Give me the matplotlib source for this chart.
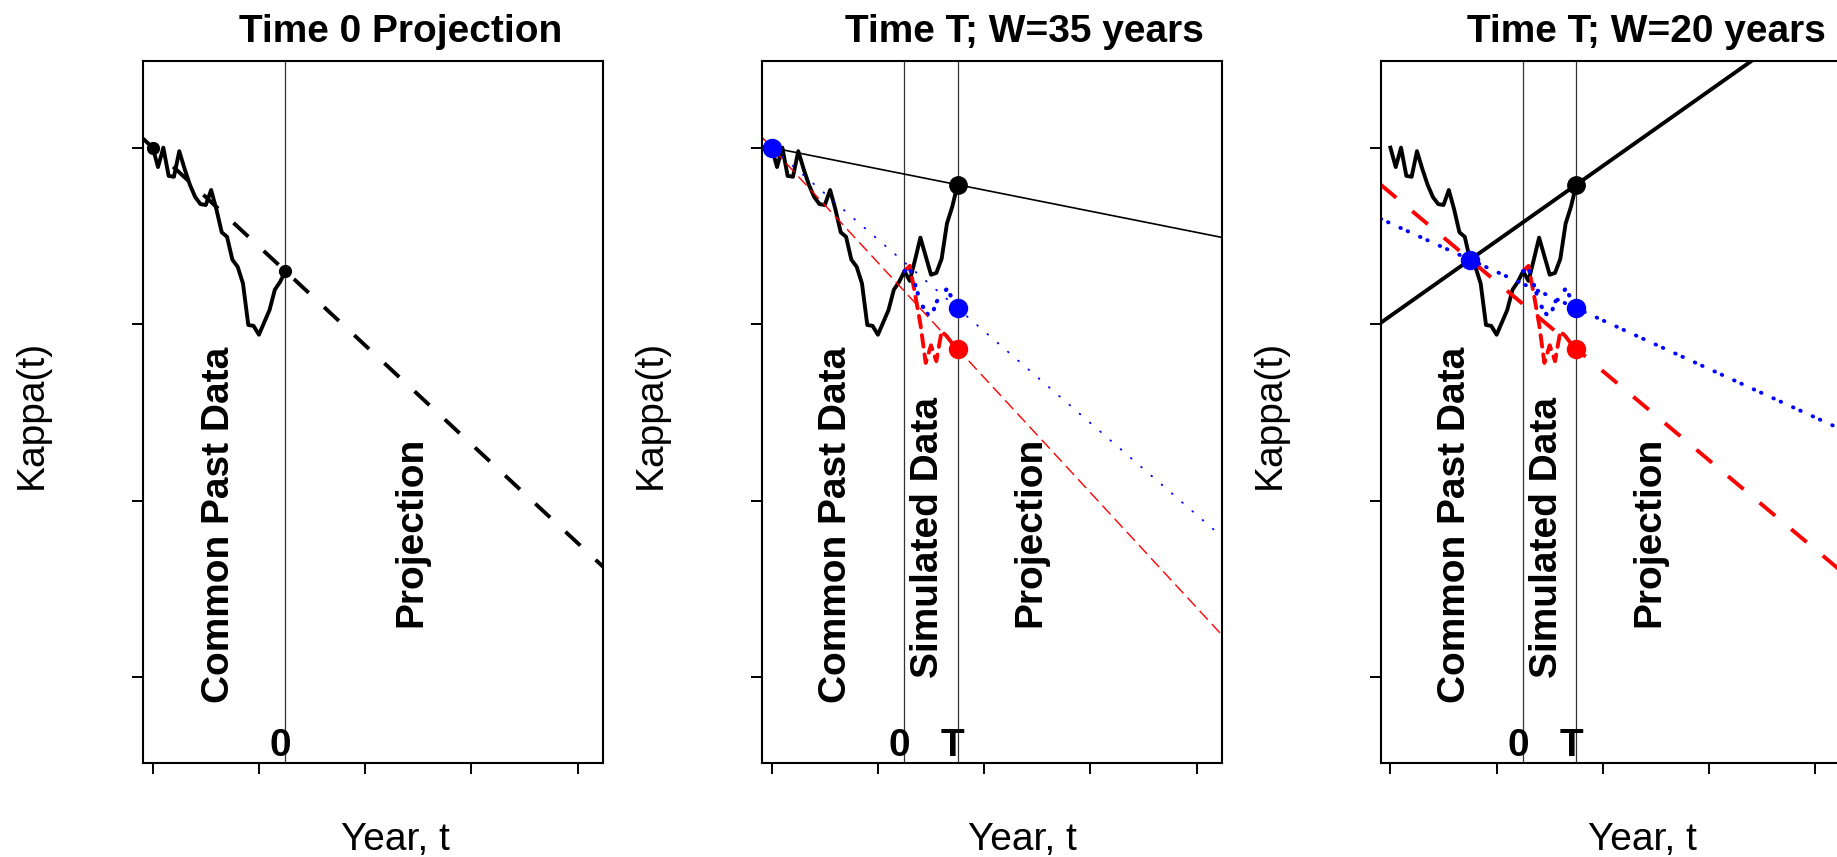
import numpy as np
import matplotlib.pyplot as plt

plt.rcParams['font.family'] = ['Liberation Sans', 'DejaVu Sans']

# common past data (kappa), shared by all three panels
years_past = np.arange(1960, 1986)
kappa_past = [0.0, -1.1, 0.0, -1.6, -1.65, -0.2, -1.2, -2.1, -2.8, -3.2,
              -3.25, -2.4, -3.5, -4.8, -5.05, -6.35, -6.75, -7.7, -10.05, -10.1,
              -10.6, -9.9, -9.2, -8.05, -7.6, -7.0]

# simulated data between time 0 and time T, three scenarios
years_sim = np.arange(1985, 1996)
kappa_black = [-7.0, -7.55, -6.35, -5.1, -6.15, -7.2, -7.1, -6.3, -4.3, -3.35, -2.1]
kappa_blue = [-7.0, -6.85, -7.75, -8.75, -9.3, -9.65, -8.75, -8.35, -8.0, -8.55, -9.1]
kappa_red = [-7.0, -6.7, -8.3, -10.0, -12.2, -11.2, -12.1, -10.4, -10.7, -11.1, -11.4]

t0 = 1985
T = 1995
windows = [35, 20]
xticks = [1960, 1980, 2000, 2020, 2040]
yticks = [0, -10, -20, -30]
titles = ['Time 0 Projection', 'Time T; W=35 years', 'Time T; W=20 years']

W, H = 1837, 857
xlim = (1958.17, 2044.8)
ylim = (-34.87, 4.91)
FS = 28

fig = plt.figure(figsize=(W / 100, H / 100), dpi=100)

panel_left = [143, 762, 1380.7]
title_x = [401, 1024, 1646]
xlab_x = [395, 1022, 1642]

thick_dash = (0, (5.2, 5.4))
path_dash = (0, (3.0, 2.0))
thin_dash = (0, (8.6, 4.3))
thin_dot = (0, (0.5, 7))
thick_dot = (0, (0.15, 1.9, 0.15, 3.35))


def proj_line(ax, x0, y0, x1, y1, **kw):
    xs = np.array(xlim)
    ys = y0 + (y1 - y0) / (x1 - x0) * (xs - x0)
    ax.plot(xs, ys, **kw)


def setup(i):
    ax = fig.add_axes([panel_left[i] / W, 1 - 763 / H, 460 / W, (763 - 61) / H])
    ax.set_xlim(xlim)
    ax.set_ylim(ylim)
    ax.set_xticks(xticks)
    ax.set_yticks(yticks)
    ax.set_xticklabels([])
    ax.set_yticklabels([])
    ax.tick_params(direction='out', length=7.7, width=1.4)
    for s in ax.spines.values():
        s.set_linewidth(1.5)
    fig.text(title_x[i] / W, 1 - 42 / H, titles[i], ha='center', va='baseline',
             fontsize=FS, fontweight='bold')
    fig.text(xlab_x[i] / W, 1 - 850 / H, 'Year, t', ha='center', va='baseline', fontsize=FS)
    fig.text((panel_left[i] - 101) / W, 1 - 414 / H, 'Kappa(t)', rotation=90,
             rotation_mode='anchor', ha='center', va='baseline', fontsize=FS)
    ax.axvline(t0, color='#333333', lw=0.9, zorder=1)
    return ax


def label(ax, x, s, y=-21.8):
    ax.text(x, y, s, rotation=90, rotation_mode='anchor', ha='center',
            va='center', fontsize=FS, fontweight='bold')


# panel 1: projection at time 0
ax = setup(0)
ax.plot(years_past, kappa_past, color='black', lw=2.8, solid_joinstyle='round')
proj_line(ax, years_past[0], kappa_past[0], t0, kappa_past[-1],
          color='black', lw=2.8, linestyle=thick_dash)
ax.plot([years_past[0], t0], [kappa_past[0], kappa_past[-1]], 'o', color='black', ms=8.5)
label(ax, 1972.4, 'Common Past Data', -21.4)
label(ax, 2008.8, 'Projection')
ax.text(t0 - 1, -34.45, '0', ha='center', va='baseline', fontsize=FS, fontweight='bold')

# panels 2 and 3: recalibration at time T with window W
k_all = dict(zip(years_past, kappa_past))
for i, w in enumerate(windows, start=1):
    ax = setup(i)
    ax.axvline(T, color='#333333', lw=0.9, zorder=1)
    start = T - w
    k_start = k_all[start]
    lw_proj = 1.2 if w == 35 else 2.8

    ax.plot(np.concatenate([years_past, years_sim[1:]]),
            kappa_past + kappa_black[1:], color='black', lw=2.8, solid_joinstyle='round')
    ax.plot(years_sim, kappa_red, color='red', lw=2.8, linestyle=path_dash,
            dash_capstyle='round')
    ax.plot(years_sim, kappa_blue, color='blue', lw=3.0, linestyle=thick_dot,
            dash_capstyle='round')

    proj_line(ax, start, k_start, T, kappa_black[-1], color='black', lw=lw_proj)
    if w == 35:
        proj_line(ax, start, k_start, T, kappa_blue[-1], color='blue', lw=1.3,
                  linestyle=thin_dot, dash_capstyle='round')
        proj_line(ax, start, k_start, T, kappa_red[-1], color='red', lw=1.0,
                  linestyle=thin_dash)
    else:
        proj_line(ax, start, k_start, T, kappa_blue[-1], color='blue', lw=2.8,
                  linestyle=thick_dot, dash_capstyle='round')
        proj_line(ax, start, k_start, T, kappa_red[-1], color='red', lw=2.8,
                  linestyle=thick_dash)

    ax.plot([start], [k_start], 'o', color='blue', ms=13, zorder=5)
    ax.plot([T], [kappa_black[-1]], 'o', color='black', ms=12.5, zorder=5)
    ax.plot([T], [kappa_blue[-1]], 'o', color='blue', ms=13, zorder=5)
    ax.plot([T], [kappa_red[-1]], 'o', color='red', ms=13, zorder=5)

    label(ax, 1972.2, 'Common Past Data', -21.4)
    label(ax, 1989.5, 'Simulated Data', -22.1)
    label(ax, 2008.8, 'Projection')
    ax.text(t0 - 1, -34.45, '0', ha='center', va='baseline', fontsize=FS, fontweight='bold')
    ax.text(T - 1, -34.45, 'T', ha='center', va='baseline', fontsize=FS, fontweight='bold')

fig.savefig('out.png', dpi=100)
